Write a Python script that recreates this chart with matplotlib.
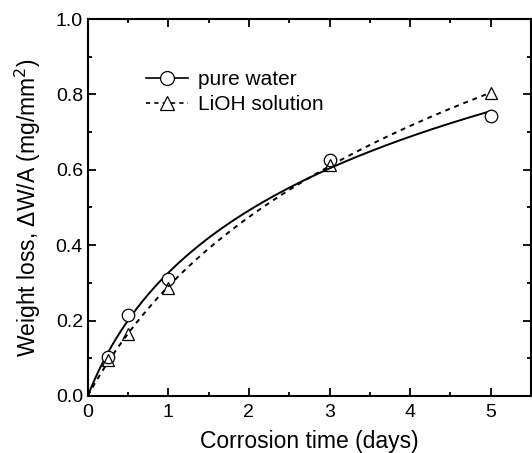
import numpy as np
import matplotlib
matplotlib.use('Agg')
import matplotlib.pyplot as plt
from matplotlib.ticker import MultipleLocator

plt.rcParams['font.family'] = ['Liberation Sans', 'DejaVu Sans']

days = [0.25, 0.5, 1.0, 3.0, 5.0]
pure_water = [0.103, 0.215, 0.31, 0.626, 0.743]
lioh = [0.095, 0.164, 0.287, 0.613, 0.803]


def log_fit(x, y):
    # y = a * ln(1 + b x): b by grid search, a by least squares
    x = np.asarray(x)
    y = np.asarray(y)
    best = None
    for b in np.linspace(0.05, 5, 2000):
        f = np.log1p(b * x)
        a = (f @ y) / (f @ f)
        err = np.sum((a * f - y) ** 2)
        if best is None or err < best[0]:
            best = (err, a, b)
    _, a, b = best
    xs = np.linspace(0, x.max(), 200)
    return xs, a * np.log1p(b * xs)


fig = plt.figure(figsize=(5.32, 4.53), dpi=100)
ax = fig.add_axes([0.165, 0.126, 0.833, 0.832])

xs, ys = log_fit(days, pure_water)
ax.plot(xs, ys, '-', color='black', lw=1.4)
xs, ys = log_fit(days, lioh)
ax.plot(xs, ys, color='black', lw=1.4, linestyle=(0, (2.5, 2.5)))

ax.plot(days, pure_water, 'o', mfc='white', mec='black', ms=9, mew=0.9)
ax.plot(days, lioh, '^', mfc='none', mec='black', ms=9, mew=0.9)

h1, = ax.plot([], [], '-o', color='black', mfc='white', mec='black', ms=10, mew=0.9, lw=1.2)
h2, = ax.plot([], [], '^', color='black', mfc='white', mec='black', ms=10, mew=0.9,
              lw=1.2, linestyle=(0, (2.5, 2.5)))
ax.legend([h1, h2], ['pure water', 'LiOH solution'], loc='upper left',
          bbox_to_anchor=(0.09, 0.915), frameon=False, fontsize=15,
          handlelength=2.0, handletextpad=0.5, labelspacing=0.3)

ax.set_xlim(0, 5.5)
ax.set_ylim(0, 1.0)
ax.xaxis.set_major_locator(MultipleLocator(1))
ax.xaxis.set_minor_locator(MultipleLocator(0.5))
ax.yaxis.set_minor_locator(MultipleLocator(0.1))
ax.set_yticks([0.0, 0.2, 0.4, 0.6, 0.8, 1.0])
ax.set_yticklabels(['0.0', '0.2', '0.4', '0.6', '0.8', '1.0'])
ax.tick_params(which='both', direction='in', top=True, right=True, width=1.3, labelsize=14)
ax.tick_params(which='major', length=6)
ax.tick_params(which='minor', length=3)
ax.tick_params(axis='x', pad=6)
for s in ax.spines.values():
    s.set_linewidth(1.5)

ax.set_xlabel('Corrosion time (days)', fontsize=16.5, labelpad=6)
ax.set_ylabel('Weight loss, ΔW/A (mg/mm$^2$)', fontsize=16.5, labelpad=9)

fig.savefig('out.png', dpi=100)
